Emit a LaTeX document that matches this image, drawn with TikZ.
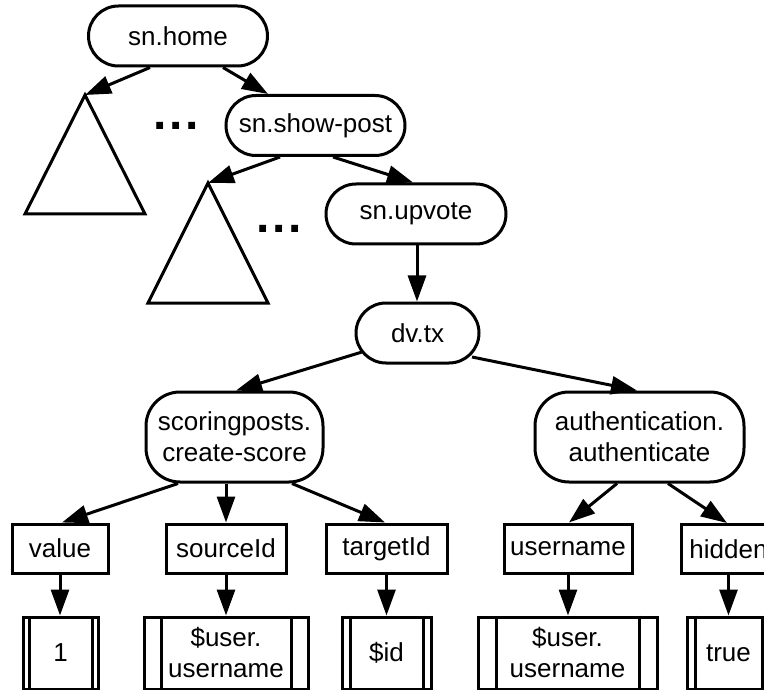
\documentclass[tikz,border=0pt]{standalone}
\usepackage{fontspec}
\setmainfont{Liberation Sans}
\usetikzlibrary{arrows.meta}

\begin{document}
\begin{tikzpicture}[x=1pt,y=-1pt,
  line width=3pt,
  every node/.style={font=\fontsize{26}{31}\selectfont},
  fn/.style={draw, rounded corners=30pt, minimum height=60pt, inner sep=0pt, align=center},
  fntall/.style={fn, rounded corners=34pt, minimum height=90pt},
  param/.style={draw, rectangle, minimum height=49pt, inner sep=0pt},
  lit/.style={draw, rectangle, minimum height=72pt, inner sep=0pt, align=center},
  arr/.style={-{Triangle[length=26pt,width=18pt]}},
  dots/.style={anchor=base, inner sep=0pt, font=\fontsize{48}{48}\selectfont\bfseries},
]
\useasboundingbox (0,0) rectangle (764,690);
\clip (0,0) rectangle (764,690);

% call chain
\node[fn, minimum width=179pt] (home)   at (178,36)    {sn.home};
\node[fn, minimum width=179pt] (post)   at (315.5,125.5) {sn.show-post};
\node[fn, minimum width=180pt] (upvote) at (416,214)   {sn.upvote};
\node[fn, minimum width=123pt] (dv)     at (417.5,333) {dv.tx};

% collapsed subtrees
\coordinate (t1) at (85,95);
\coordinate (t2) at (208,183);
\draw (t1) -- (25,214) -- (145,214) -- cycle;
\draw (t2) -- (148,303) -- (268,303) -- cycle;
\node[dots] (d1) at (176,130) {.\kern2.7pt.\kern2.7pt.};
\node[dots] (d2) at (279,233) {.\kern2.7pt.\kern2.7pt.};

% transaction body
\node[fntall, minimum width=177pt] (sp)   at (234.5,437) {scoringposts.\\create-score};
\node[fntall, minimum width=209pt] (auth) at (639.5,437) {authentication.\\authenticate};

% parameters
\node[param, minimum width=96pt]  (value) at (60,548.5)    {value};
\node[param, minimum width=120pt] (src)   at (226,548.5)   {sourceId};
\node[param, minimum width=121pt] (tgt)   at (386.5,548.5) {targetId};
\node[param, minimum width=128pt] (usr)   at (568,548.5)   {username};
\node[param, minimum width=95pt]  (hid)   at (728.5,549)   {hidden};

% argument values
\node[lit, minimum width=75pt]  (l1) at (60.5,653)  {1};
\node[lit, minimum width=164pt] (l2) at (226,653)   {\$user.\\username};
\node[lit, minimum width=89pt]  (l3) at (386.5,653) {\$id};
\node[lit, minimum width=179pt] (l4) at (567.5,653) {\$user.\\username};
\node[lit, minimum width=83pt]  (l5) at (728.5,653) {true};
\foreach \n/\b in {l1/7.5,l2/18.5,l3/9.5,l4/19.5,l5/9.5}{
  \draw ([xshift=\b pt]\n.north west) -- ([xshift=\b pt]\n.south west);
  \draw ([xshift=-\b pt]\n.north east) -- ([xshift=-\b pt]\n.south east);
}

% connectors
\draw[arr] ([xshift=-28pt]home.south) -- (t1);
\draw[arr] ([xshift=45pt]home.south) -- ([xshift=-47.5pt]post.north);
\draw[arr] ([xshift=-35.5pt]post.south) -- (t2);
\draw[arr] ([xshift=17.5pt]post.south) -- ([xshift=-3pt]upvote.north);
\draw[arr] ([xshift=1pt]upvote.south) -- ([xshift=1pt]upvote.south |- dv.north);
\draw[arr] ([shift={(-55.5,19)}]dv.center) -- ([xshift=1.5pt]sp.north);
\draw[arr] ([shift={(54.5,24)}]dv.center) -- ([xshift=-2.5pt]auth.north);
\draw[arr] ([xshift=-56.5pt]sp.south) -- ([xshift=2pt]value.north);
\draw[arr] (src.north |- sp.south) -- (src.north);
\draw[arr] ([xshift=57.5pt]sp.south) -- ([xshift=-1.5pt]tgt.north);
\draw[arr] ([xshift=-22.5pt]auth.south) -- ([xshift=1pt]usr.north);
\draw[arr] ([xshift=28.5pt]auth.south) -- ([xshift=-1.5pt]hid.north);
\draw[arr] (value.south) -- (value.south |- l1.north);
\draw[arr] (src.south) -- (src.south |- l2.north);
\draw[arr] (tgt.south) -- (tgt.south |- l3.north);
\draw[arr] (usr.south) -- (usr.south |- l4.north);
\draw[arr] (hid.south) -- (hid.south |- l5.north);
\end{tikzpicture}
\end{document}
